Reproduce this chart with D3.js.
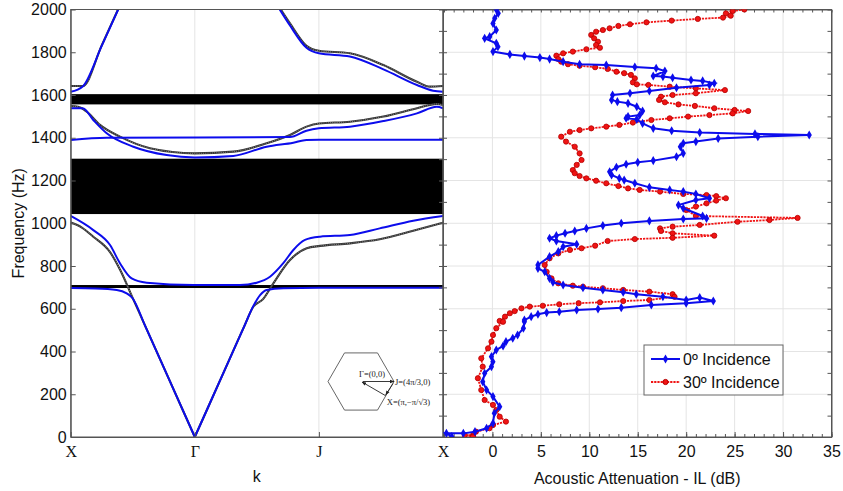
<!DOCTYPE html>
<html>
<head>
<meta charset="utf-8">
<script src="https://cdn.jsdelivr.net/npm/d3@7"></script>
<style>
  body { margin: 0; background: #fff; }
  svg { display: block; font-family: "Liberation Sans", Arial, sans-serif; }
</style>
</head>
<body>
<div id="chart"></div>
<script>
// ---- band structure (k path X -> Γ -> J -> X mapped to 0..3) ----
const kTicks = [0, 1, 2, 3];
const kLabels = ["X", "Γ", "J", "X"];
const freqTicks = d3.range(0, 2001, 200);
const gaps = [[697, 711], [1043, 1302], [1556, 1604]];

// blue: with resonators, black dotted: without
const blueBranches = [
  [[0,1615],[0.097,1640],[0.25,1830],[0.40,2022]],
  [[1.66,2023],[1.767,1925],[1.9,1821],[2.0,1795],[2.25,1780],[2.52,1720],[2.79,1647],[2.92,1620],[3,1615]],
  [[0,1538],[0.097,1538],[0.182,1483],[0.29,1421],[0.505,1358],[0.773,1319],[1,1308],[1.31,1315],[1.579,1358],[1.794,1377],[1.9,1390],[2,1391],[3,1391]],
  [[0,1390],[0.29,1400],[1.767,1403],[1.9,1433],[2,1444],[2.25,1452],[2.52,1478],[2.79,1514],[2.95,1545],[3,1538]],
  [[0,1034],[0.182,968],[0.317,898],[0.397,813],[0.491,742],[0.612,722],[0.988,711],[1.364,711],[1.499,722],[1.606,750],[1.713,813],[1.794,875],[1.888,922],[2.009,937],[2.25,945],[2.49,976],[2.76,1012],[3,1034]],
  [[0,697],[0.2,695],[0.371,688],[0.451,672],[0.5,648],[0.6,520],[0.8,260],[1,0]],
  [[1,0],[1.2,260],[1.4,520],[1.47,611],[1.526,664],[1.579,688],[1.713,696],[2,698],[3,698]]
];
const blackBranches = [
  [[0,1642],[0.097,1642],[0.25,1832],[0.40,2024]],
  [[1.66,2030],[1.767,1935],[1.9,1830],[2.0,1807],[2.25,1795],[2.52,1740],[2.79,1662],[2.895,1639],[3,1642]],
  [[0,1548],[0.06,1545],[0.129,1522],[0.236,1460],[0.397,1405],[0.639,1351],[1,1327],[1.31,1335],[1.579,1374],[1.767,1413],[1.9,1452],[2,1467],[2.25,1475],[2.52,1499],[2.79,1538],[2.95,1558],[3,1553]],
  [[0,1003],[0.09,980],[0.182,937],[0.317,865],[0.40,780],[0.5,650],[0.6,520],[0.8,260],[1,0]],
  [[1,0],[1.2,260],[1.4,520],[1.47,608],[1.55,645],[1.633,719],[1.767,828],[1.902,883],[2.009,894],[2.25,906],[2.49,925],[2.76,965],[3,1003]]
];

// ---- insertion loss [IL dB, frequency Hz] ----
const ilTicks = [0, 5, 10, 15, 20, 25, 30, 35];
const incidence0 = [[0.4,2000],[0.6,1982],[0.24,1959],[0.06,1935],[0.4,1904],[-0.28,1873],[-0.8,1865],[0.4,1842],[0.57,1826],[0.06,1803],[1.8,1790],[3.3,1782],[4.9,1775],[5.9,1768],[7.3,1756],[9.0,1744],[11.75,1740],[14.7,1731],[16.9,1725],[17.8,1712],[16.6,1689],[17.6,1686],[18.6,1681],[20.5,1670],[21.7,1666],[22.9,1655],[22.4,1647],[19.0,1634],[16.2,1619],[14.2,1608],[12.4,1600],[12.3,1577],[12.9,1569],[14.0,1561],[14.9,1545],[15.5,1525],[15.2,1506],[14.0,1499],[13.8,1491],[14.9,1486],[15.5,1467],[16.6,1444],[18.5,1433],[21.4,1424],[27.1,1418],[32.7,1413],[27.4,1405],[23.3,1397],[21.0,1382],[19.7,1374],[19.4,1358],[19.7,1327],[19.0,1311],[16.6,1293],[15.0,1285],[13.8,1276],[12.8,1262],[12.1,1241],[12.3,1226],[13.1,1210],[13.6,1202],[14.7,1187],[16.2,1168],[18.3,1156],[19.7,1148],[21.0,1137],[22.4,1117],[21.0,1109],[19.2,1085],[19.7,1070],[21.7,1034],[22.1,1023],[19.7,1020],[16.2,1011],[13.3,1000],[11.4,989],[9.7,976],[8.5,964],[7.5,953],[6.6,942],[5.9,930],[6.6,917],[8.7,902],[7.3,890],[6.8,867],[5.9,844],[4.7,805],[4.7,789],[5.4,773],[5.9,742],[6.25,724],[7.3,711],[9.35,698],[11.4,688],[13.5,677],[14.85,668],[17.6,656],[20.0,641],[21.4,652],[22.8,636],[20.0,626],[16.4,618],[13.3,605],[10.9,599],[8.7,594],[6.9,586],[5.6,582],[4.7,574],[4.0,563],[3.3,547],[3.3,539],[3.2,509],[2.6,477],[2.1,462],[1.4,446],[1.1,426],[0.4,407],[-0.1,376],[0.05,352],[-0.1,329],[-0.8,298],[-1.0,259],[-0.6,220],[0.06,189],[0.75,142],[0.2,111],[0.06,64],[-0.6,41],[-1.8,25],[-3.0,17],[-4.75,17],[-4.2,2]];
const incidence30 = [[26.0,2000],[24.8,1993],[24.1,1982],[24.6,1971],[23.8,1962],[21.2,1956],[18.5,1948],[15.9,1940],[14.2,1931],[13.0,1923],[12.1,1912],[11.4,1904],[10.7,1896],[10.2,1881],[10.5,1865],[10.9,1849],[10.7,1834],[11.1,1821],[9.7,1814],[8.3,1803],[7.3,1795],[6.6,1784],[6.8,1768],[7.1,1756],[7.8,1744],[9.0,1737],[10.6,1730],[11.9,1722],[12.8,1709],[13.6,1702],[14.3,1694],[14.7,1678],[14.5,1659],[14.9,1650],[16.1,1647],[18.3,1639],[21.0,1631],[24.0,1623],[21.0,1608],[18.6,1600],[17.4,1592],[17.2,1577],[17.8,1566],[19.2,1556],[20.9,1549],[22.9,1538],[25.0,1530],[26.4,1525],[24.8,1514],[22.4,1506],[20.2,1499],[18.3,1491],[16.4,1483],[14.5,1471],[13.1,1460],[11.75,1452],[10.2,1444],[9.0,1436],[8.0,1428],[7.1,1405],[7.6,1382],[8.5,1358],[9.0,1327],[9.2,1296],[8.7,1273],[8.3,1249],[8.5,1234],[9.0,1221],[9.7,1210],[10.7,1199],[11.75,1187],[13.0,1174],[14.0,1163],[15.2,1156],[17.3,1148],[19.7,1137],[22.1,1132],[23.1,1127],[24.1,1117],[23.1,1106],[22.1,1093],[21.0,1078],[20.0,1062],[21.0,1034],[31.5,1025],[28.6,1015],[25.3,1007],[21.4,992],[18.6,984],[17.3,976],[17.4,964],[18.6,953],[22.9,942],[18.6,932],[14.7,926],[11.9,917],[10.6,895],[9.2,883],[8.0,875],[6.8,859],[5.9,836],[5.4,805],[5.6,773],[6.1,742],[6.8,719],[8.3,708],[9.35,703],[11.4,696],[13.5,688],[16.2,680],[18.6,668],[18.8,656],[16.2,641],[13.5,636],[11.1,630],[8.9,626],[6.9,621],[5.2,614],[3.85,610],[3.0,602],[2.3,589],[1.8,579],[1.3,563],[0.75,543],[1.1,539],[0.4,509],[0.06,477],[-0.1,446],[-0.45,415],[-1.15,368],[-1.0,329],[-1.5,275],[-1.15,220],[-0.8,173],[0.06,150],[0.4,126],[0.75,95],[1.4,72],[0.06,56],[-0.3,41],[-1.7,25],[-2.0,9],[-2.85,9],[-2.0,2]];
const seriesNames = ["0º Incidence", "30º Incidence"];

function draw() {
  const W = 843, H = 491;
  const L = { x0: 70.7, x1: 443, y0: 9.5, y1: 437 };
  const R = { x0: 443, x1: 831.5 };
  const blue = "#0c0cec", red = "#f01414", frame = "#555", grid = "#e4e4e4";

  const svg = d3.select("#chart").append("svg").attr("width", W).attr("height", H);
  const defs = svg.append("defs");
  defs.append("clipPath").attr("id", "clipL").append("rect")
    .attr("x", L.x0).attr("y", L.y0).attr("width", L.x1 - L.x0).attr("height", L.y1 - L.y0);
  defs.append("clipPath").attr("id", "clipR").append("rect")
    .attr("x", R.x0).attr("y", L.y0).attr("width", R.x1 - R.x0).attr("height", L.y1 - L.y0);
  defs.append("marker").attr("id", "arrow").attr("viewBox", "0 0 10 10")
    .attr("refX", 9).attr("refY", 5).attr("markerWidth", 5).attr("markerHeight", 5)
    .attr("orient", "auto").append("path").attr("d", "M0,1L10,5L0,9Z").attr("fill", "#222");

  const x = d3.scaleLinear().domain([0, 3]).range([L.x0, L.x1]);
  const y = d3.scaleLinear().domain([0, 2000]).range([L.y1, L.y0]);
  const xr = d3.scaleLinear().domain([-5.1, 35]).range([R.x0, R.x1]);

  // ---------- left panel ----------
  const gl = svg.append("g");
  gl.selectAll(".vgrid").data([1, 2]).join("line")
    .attr("x1", d => x(d)).attr("x2", d => x(d))
    .attr("y1", L.y0).attr("y2", L.y1).attr("stroke", grid);

  const plotL = gl.append("g").attr("clip-path", "url(#clipL)");
  plotL.selectAll(".gap").data(gaps).join("rect")
    .attr("x", L.x0).attr("width", L.x1 - L.x0)
    .attr("y", d => y(d[1])).attr("height", d => y(d[0]) - y(d[1]))
    .attr("fill", "#000");

  const band = d3.line().x(d => x(d[0])).y(d => y(d[1])).curve(d3.curveMonotoneX);
  plotL.selectAll(".blk").data(blackBranches).join("path")
    .attr("d", band).attr("fill", "none").attr("stroke", "#333").attr("stroke-width", 2.1);
  plotL.selectAll(".blkdot").data(blackBranches).join("path")
    .attr("d", band).attr("fill", "none").attr("stroke", "#a8a8a8")
    .attr("stroke-width", 0.8).attr("stroke-dasharray", "0.8,1.4");
  plotL.selectAll(".blu").data(blueBranches).join("path")
    .attr("d", band).attr("fill", "none").attr("stroke", blue).attr("stroke-width", 2);

  // hexagonal Brillouin zone inset
  const hc = [361, 381.5], hr = 33;
  const hex = d3.range(7).map(i => [hc[0] + hr * Math.cos(i * Math.PI / 3), hc[1] + hr * Math.sin(i * Math.PI / 3)]);
  gl.append("path").attr("d", d3.line()(hex)).attr("fill", "none").attr("stroke", "#555").attr("stroke-width", 0.9);
  const pJ = [hc[0] + hr, hc[1]];
  const pX = [hc[0] + 0.75 * hr, hc[1] + 0.433 * hr];
  const arrows = [[pX, [hc[0] + 1, hc[1] + 0.5]], [[hc[0] + 2, hc[1]], pJ], [[pJ[0] - 1, pJ[1] + 2], [pX[0], pX[1] - 1]]];
  gl.selectAll(".arr").data(arrows).join("line")
    .attr("x1", d => d[0][0]).attr("y1", d => d[0][1])
    .attr("x2", d => d[1][0]).attr("y2", d => d[1][1])
    .attr("stroke", "#222").attr("stroke-width", 0.9).attr("marker-end", "url(#arrow)");
  const inset = gl.append("g").style("font-family", "'Liberation Serif', serif").style("font-size", "8.5px").attr("fill", "#222");
  inset.append("text").attr("x", hc[0] - 2).attr("y", hc[1] - 5).text("Γ=(0,0)");
  inset.append("text").attr("x", pJ[0] + 1).attr("y", pJ[1] + 3).text("J=(4π/3,0)");
  inset.append("text").attr("x", pX[0] + 1).attr("y", pX[1] + 9).text("X=(π,−π/√3)");

  // left axes
  gl.append("g").attr("transform", `translate(${L.x0},0)`)
    .call(d3.axisLeft(y).tickValues(freqTicks).tickFormat(d3.format("d")).tickSizeInner(-5).tickSizeOuter(0).tickPadding(4))
    .call(g => g.selectAll("text").style("font-size", "16px").attr("fill", "#111"));
  gl.append("g").attr("transform", `translate(${L.x1},0)`)
    .call(d3.axisRight(y).tickValues(d3.range(0, 2001, 100)).tickSizeInner(-4).tickSizeOuter(0).tickFormat(""));
  gl.append("g").attr("transform", `translate(0,${L.y1})`)
    .call(d3.axisBottom(x).tickValues(kTicks).tickFormat((d, i) => kLabels[i]).tickSizeInner(-5).tickSizeOuter(0).tickPadding(9))
    .call(g => g.selectAll("text").style("font-family", "'Liberation Serif', serif").style("font-size", "16px").attr("fill", "#111"));
  gl.append("rect").attr("x", L.x0).attr("y", L.y0).attr("width", L.x1 - L.x0).attr("height", L.y1 - L.y0)
    .attr("fill", "none").attr("stroke", frame);
  gl.selectAll(".domain, .tick line").attr("stroke", frame);

  svg.append("text").attr("transform", `translate(24,${(L.y0 + L.y1) / 2}) rotate(-90)`)
    .attr("text-anchor", "middle").style("font-size", "16px").attr("fill", "#111").text("Frequency (Hz)");
  svg.append("text").attr("x", (L.x0 + L.x1) / 2).attr("y", 482)
    .attr("text-anchor", "middle").style("font-size", "16px").attr("fill", "#111").text("k");

  // ---------- right panel ----------
  const gr = svg.append("g");
  gr.selectAll(".gx").data(ilTicks.slice(0, -1)).join("line")
    .attr("x1", d => xr(d)).attr("x2", d => xr(d)).attr("y1", L.y0).attr("y2", L.y1).attr("stroke", grid);
  gr.selectAll(".gy").data(freqTicks.slice(1, -1)).join("line")
    .attr("x1", R.x0).attr("x2", R.x1).attr("y1", d => y(d)).attr("y2", d => y(d)).attr("stroke", grid);

  gr.append("g").attr("transform", `translate(0,${L.y1})`)
    .call(d3.axisBottom(xr).tickValues(ilTicks).tickSizeInner(-5).tickSizeOuter(0).tickPadding(9))
    .call(g => g.selectAll("text").style("font-size", "16px").attr("fill", "#111"));
  gr.append("g").attr("transform", `translate(0,${L.y1})`)
    .call(d3.axisBottom(xr).tickValues(d3.range(-5, 36, 1)).tickSizeInner(-3).tickSizeOuter(0).tickFormat(""));
  gr.append("g").attr("transform", `translate(0,${L.y0})`)
    .call(d3.axisTop(xr).tickValues(d3.range(-5, 36, 1)).tickSizeInner(-3).tickSizeOuter(0).tickFormat(""));
  gr.append("g").attr("transform", `translate(${R.x0},0)`)
    .call(d3.axisLeft(y).tickValues(d3.range(0, 2001, 100)).tickSizeInner(-4).tickSizeOuter(0).tickFormat(""));
  gr.append("g").attr("transform", `translate(${R.x1},0)`)
    .call(d3.axisRight(y).tickValues(d3.range(0, 2001, 100)).tickSizeInner(-4).tickSizeOuter(0).tickFormat(""));
  gr.append("rect").attr("x", R.x0).attr("y", L.y0).attr("width", R.x1 - R.x0).attr("height", L.y1 - L.y0)
    .attr("fill", "none").attr("stroke", frame);
  gr.selectAll(".domain, .tick line").attr("stroke", frame);

  const plotR = gr.append("g").attr("clip-path", "url(#clipR)");
  const il = d3.line().x(d => xr(d[0])).y(d => y(d[1]));
  const diamond = d3.symbol().type(d3.symbolDiamond).size(24);

  plotR.append("path").datum(incidence30).attr("d", il).attr("fill", "none")
    .attr("stroke", red).attr("stroke-width", 1.8).attr("stroke-dasharray", "2.2,1");
  plotR.selectAll(".m30").data(incidence30).join("circle")
    .attr("cx", d => xr(d[0])).attr("cy", d => y(d[1])).attr("r", 2.6)
    .attr("fill", red).attr("stroke", "#b40000").attr("stroke-width", 0.8);
  plotR.append("path").datum(incidence0).attr("d", il).attr("fill", "none")
    .attr("stroke", blue).attr("stroke-width", 2);
  plotR.selectAll(".m0").data(incidence0).join("path")
    .attr("transform", d => `translate(${xr(d[0])},${y(d[1])})`).attr("d", diamond).attr("fill", blue);

  svg.append("text").attr("x", (R.x0 + R.x1) / 2).attr("y", 484)
    .attr("text-anchor", "middle").style("font-size", "16px").attr("fill", "#111")
    .text("Acoustic Attenuation - IL (dB)");

  // legend
  const lg = svg.append("g").attr("transform", "translate(644,345)");
  lg.append("rect").attr("width", 139).attr("height", 50).attr("fill", "#fff").attr("stroke", "#666");
  const items = [{ name: seriesNames[0], color: blue, ty: 14 }, { name: seriesNames[1], color: red, ty: 37 }];
  lg.selectAll(".li").data(items).join("line")
    .attr("x1", 7).attr("x2", 36).attr("y1", d => d.ty).attr("y2", d => d.ty)
    .attr("stroke", d => d.color).attr("stroke-width", 2)
    .attr("stroke-dasharray", (d, i) => i ? "2.2,1" : null);
  lg.append("path").attr("transform", `translate(21.5,${items[0].ty})`).attr("d", diamond).attr("fill", blue);
  lg.append("circle").attr("cx", 21.5).attr("cy", items[1].ty).attr("r", 2.6).attr("fill", red).attr("stroke", "#b40000");
  lg.selectAll(".lt").data(items).join("text")
    .attr("x", 39).attr("y", d => d.ty + 6).style("font-size", "16px").attr("fill", "#111").text(d => d.name);
}

draw();
</script>
</body>
</html>
